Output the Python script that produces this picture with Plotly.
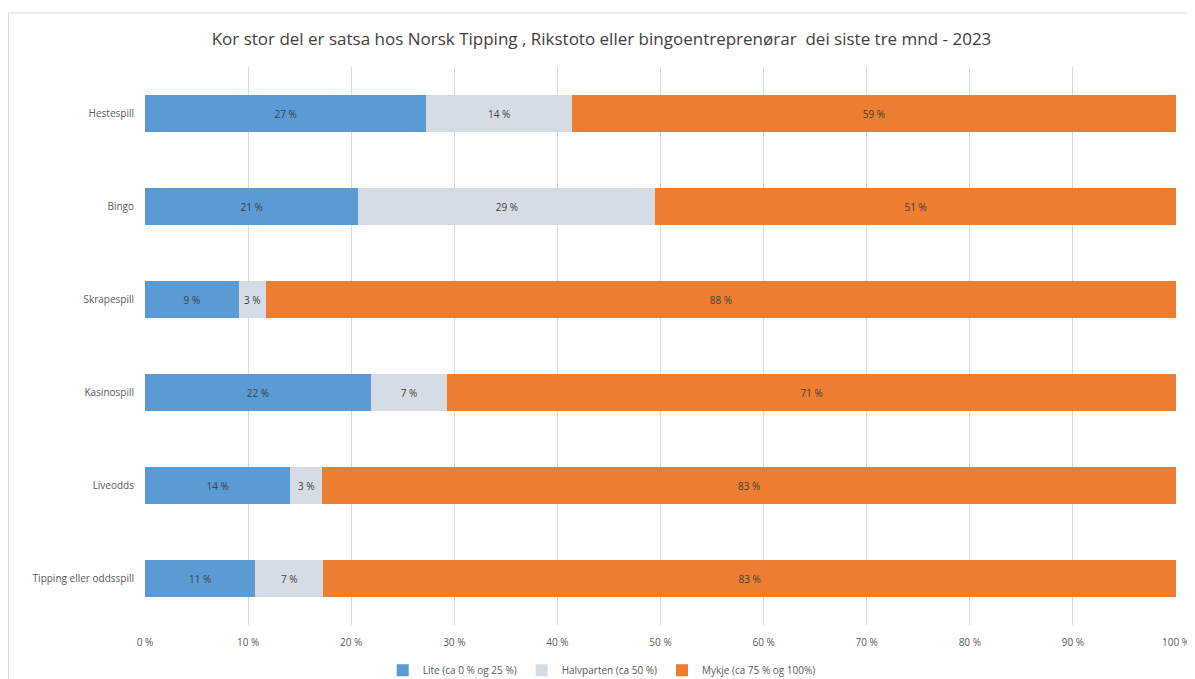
import plotly.graph_objects as go

categories = ["Hestespill", "Bingo", "Skrapespill", "Kasinospill", "Liveodds", "Tipping eller oddsspill"]
lite = [27.3, 20.7, 9.1, 21.9, 14.1, 10.7]
halvparten = [14.1, 28.8, 2.6, 7.4, 3.1, 6.6]
mykje = [58.6, 50.5, 88.3, 70.7, 82.8, 82.7]
series_names = ["Lite (ca 0 % og 25 %)", "Halvparten (ca 50 %)", "Mykje (ca 75 % og 100%)"]
colors = ["#5B9BD5", "#D6DCE5", "#ED7D31"]
tick_vals = [0, 10, 20, 30, 40, 50, 60, 70, 80, 90, 100]
tick_text = [f"{v} %" for v in tick_vals]

W, H = 1187, 671
L, R, T, B = 137, 19, 59, 54
pw, ph = W - L - R, H - T - B

fig = go.Figure()
for name, vals, col in zip(series_names, [lite, halvparten, mykje], colors):
    fig.add_trace(go.Bar(
        y=categories, x=vals, name=name, orientation="h",
        marker=dict(color=col, line=dict(width=0)),
        texttemplate="%{x:.0f} %", textposition="inside", insidetextanchor="middle",
        textfont=dict(size=10, color="#404040"),
        constraintext="none",
    ))

fig.update_layout(
    barmode="stack",
    bargap=0.6,
    width=W, height=H,
    margin=dict(l=L, r=R, t=T, b=B, autoexpand=False),
    paper_bgcolor="white", plot_bgcolor="white",
    font=dict(family="Open Sans, Liberation Sans, sans-serif", color="#595959", size=10),
    title=dict(text="Kor stor del er satsa hos Norsk Tipping , Rikstoto eller bingoentreprenørar  dei siste tre mnd - 2023",
               x=0.5, xref="container", y=0.953, yanchor="middle",
               font=dict(size=17, color="#404040")),
    xaxis=dict(range=[0, 100], tickvals=tick_vals, ticktext=tick_text, showgrid=True,
               gridcolor="#D9D9D9", gridwidth=1, zeroline=False, showline=False,
               tickfont=dict(size=10, color="#595959"), ticks="", ticklen=0,
               ticklabelstandoff=10, automargin=False),
    yaxis=dict(categoryorder="array", categoryarray=categories[::-1], autorange=True,
               showgrid=False, showline=False, ticks="", ticklabelstandoff=10, automargin=False,
               tickfont=dict(size=10, color="#595959")),
    legend=dict(orientation="h", x=0.443, xanchor="center", yref="container", y=0.013, yanchor="middle",
                font=dict(size=10, color="#595959"), traceorder="normal",
                bgcolor="rgba(0,0,0,0)", itemwidth=30),
    uniformtext=dict(minsize=8, mode="show"),
    shapes=[dict(type="rect", xref="paper", yref="paper",
                 x0=(0.5 - L) / pw, x1=(W + 10 - L) / pw,
                 y0=(ph + T - (H + 20)) / ph, y1=(ph + T - 5) / ph,
                 line=dict(color="#D9D9D9", width=1), fillcolor="rgba(0,0,0,0)", layer="below")],
)

fig.write_html("out.html")
